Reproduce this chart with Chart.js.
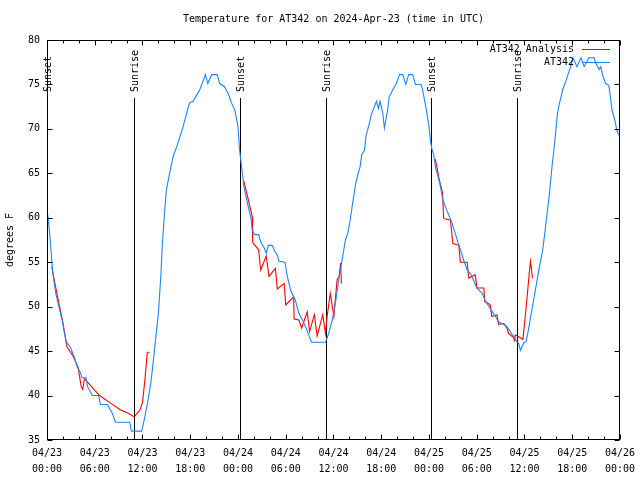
<!DOCTYPE html>
<html><head><meta charset="utf-8">
<script src="https://cdn.jsdelivr.net/npm/chart.js@4/dist/chart.umd.min.js"></script>
<style>html,body{margin:0;padding:0;background:#fff}</style>
</head><body>
<canvas id="c" width="640" height="480"></canvas>
<script>
// ---- data (hours since 2024-04-23 00:00 UTC) ----
const obsHours = [0,0.25,0.5,0.7,1.1,1.5,1.9,2.2,2.4,2.9,3.4,3.8,4.2,4.4,4.9,5.1,5.7,6.5,6.7,7.6,8.2,8.6,10.4,10.6,11.9,12.3,12.7,13.1,13.55,14.0,14.3,14.5,14.8,15.0,15.4,15.85,16.3,16.7,17.1,17.5,17.9,18.35,18.8,19.2,19.5,19.9,20.2,20.7,21.4,21.7,22.3,22.75,23.2,23.6,24.0,24.2,24.5,24.75,25.2,25.6,25.8,26.1,26.6,26.85,27.3,27.55,27.8,28.3,28.65,28.95,29.15,29.9,30.2,30.6,31.0,31.2,31.65,32.1,32.5,32.9,33.25,35.0,35.4,35.85,36.3,36.7,37.0,37.3,37.5,37.8,38.1,38.4,38.8,39.1,39.35,39.55,39.9,40.1,40.45,40.75,41.0,41.4,41.65,41.85,42.2,42.4,42.8,43.0,43.45,43.9,44.3,44.7,45.1,45.45,45.95,46.3,47.0,47.2,47.6,47.95,48.2,48.4,48.6,48.8,49.15,49.45,49.7,50.05,50.5,50.9,51.3,51.7,52.1,52.35,52.8,53.2,53.6,54.0,54.7,55.1,55.7,56.1,56.75,57.4,57.8,58.2,58.65,59.05,59.25,59.5,59.9,60.2,60.5,60.85,61.15,61.4,61.8,62.3,62.6,62.9,63.1,63.3,63.5,63.7,63.95,64.15,64.4,64.6,64.8,65.1,65.4,65.8,66.1,66.6,67.1,67.5,68.1,68.75,68.95,69.4,69.6,69.8,70.2,70.6,70.8,71.0,71.35,71.6,72.0];
const obsTemps = [61,59,56.4,54,51.5,50,48.5,47,46.1,45.5,44.4,43.2,42.6,42,42,41,40,40,39,39,38,37,37,36,36,37.6,39.5,41.75,45.5,49.3,53.4,57.1,60.9,63.1,65,66.9,68,69.1,70.25,71.6,72.9,73.1,73.8,74.4,75.1,76.1,75.1,76.1,76.1,75.1,74.75,74,72.9,72.1,70.25,67.6,65.4,63.5,61.6,60.1,58.6,58.1,58.1,57.3,56.6,56,56.9,56.9,56.2,55.8,55.1,55,53.4,51.9,51.1,50.75,49.25,48.5,47.75,46.8,46,46,47,48.5,50.75,53.2,54.8,56.4,57.5,58.25,59.75,61.6,63.9,65,65.75,67.1,67.6,69.3,70.4,71.6,72.2,73.1,72.3,73.1,71.75,70.1,72.1,73.6,74.4,75.1,76.1,76.1,75,76.1,76.1,75,75,74.4,72.5,70.6,68.6,67.6,67.1,65.75,64.6,63.5,62.2,61.25,60.3,59.4,58.25,57.1,56,55.25,54.1,53.75,53,52.1,51.5,50.6,49.8,49.25,48.3,48,47.75,47.2,46.6,46.05,45.9,45.1,45.95,46.05,47.4,49.25,50.75,52,54.1,56.4,58.6,60.9,62.4,64.25,66.1,67.6,69.9,71.75,72.9,73.6,74.4,75.1,75.9,77,78,77,78,77,78,78,77.4,76.7,77,76.1,75.1,74.9,73.6,72.1,71,69.9,69.0];

const anaHours = [0.6,0.8,1.4,2.0,2.5,3.3,3.9,4.3,4.5,4.7,5.4,6.6,7.9,9.2,10.2,10.95,11.7,12.0,12.3,12.6,12.85,
  18,
  24.75,25.2,25.6,25.8,25.85,26.6,26.85,27.55,27.9,28.7,28.95,29.8,30.0,31.0,31.05,31.65,32.0,32.7,33.0,33.6,33.95,34.65,35.0,35.2,35.6,36.05,36.45,36.7,36.9,37.0,
  42,
  48.8,49.3,49.55,49.7,49.85,50.7,51.0,51.75,51.95,52.8,53.0,53.8,54.05,54.9,55.0,55.7,55.9,56.55,56.75,57.4,57.8,58.0,58.6,58.75,58.85,59.5,59.8,60.1,60.3,60.6,60.75,60.85,61.0];
const anaTemps = [54.5,53.5,50.8,48.2,45.5,44.4,43.2,41,40.7,41.9,41.2,40,39.2,38.4,38,37.6,38.4,39.2,41.75,44.8,44.9,
  null,
  64.1,62.4,60.9,60.1,57.2,56.4,54.1,55.7,53.4,54.3,52,52.6,50.2,51.1,48.6,48.5,47.6,49.4,47.2,49.1,46.7,49.1,47,48.9,51.5,48.9,53,53.4,54.9,52.6,
  null,
  66.6,64.25,63.4,62.75,59.9,59.75,57.1,56.9,55,55,53.2,53.6,52.1,52.1,50.6,50.2,48.9,49.1,48,48.1,47.6,47,46.55,46.2,46.8,46.5,46.3,48.9,50.75,53.75,55.1,54.5,53.2];

const sunsetHours = [0, 24.2, 48.2];
const sunriseHours = [10.9, 35.0, 59.1];

const xTickDates = ['04/23','04/23','04/23','04/23','04/24','04/24','04/24','04/24','04/25','04/25','04/25','04/25','04/26'];
const xTickTimes = ['00:00','06:00','12:00','18:00','00:00','06:00','12:00','18:00','00:00','06:00','12:00','18:00','00:00'];
const seriesNames = ['AT342 Analysis', 'AT342'];
const titleText = 'Temperature for AT342 on 2024-Apr-23 (time in UTC)';

const RED = '#ff0000', BLUE = '#1a85ff';
const FAM = '"DejaVu Sans Mono", "Liberation Mono", monospace';
const F10 = '10px ' + FAM;

const obsData = obsHours.map((h, i) => ({x: h, y: obsTemps[i]}));
const anaData = anaHours.map((h, i) => ({x: h, y: anaTemps[i]}));

const sunPlugin = {
  id: 'sun',
  beforeDatasetsDraw(chart) {
    const ctx = chart.ctx, xs = chart.scales.x, a = chart.chartArea;
    ctx.save();
    ctx.strokeStyle = '#000'; ctx.lineWidth = 1;
    const draw = (h, label) => {
      const px = Math.round(xs.getPixelForValue(h)) + 0.5;
      ctx.beginPath(); ctx.moveTo(px, 98); ctx.lineTo(px, a.bottom); ctx.stroke();
      ctx.save();
      ctx.translate(px + 1, 92);
      ctx.rotate(-Math.PI / 2);
      ctx.fillStyle = '#000'; ctx.font = F10;
      ctx.textAlign = 'left'; ctx.textBaseline = 'middle';
      ctx.fillText(label, 0, 0);
      ctx.restore();
    };
    sunsetHours.forEach(h => draw(h, 'Sunset'));
    sunriseHours.forEach(h => draw(h, 'Sunrise'));
    ctx.restore();
  }
};

const framePlugin = {
  id: 'frame',
  afterDraw(chart) {
    const ctx = chart.ctx, a = chart.chartArea, xs = chart.scales.x, ys = chart.scales.y;
    ctx.save();
    ctx.strokeStyle = '#000'; ctx.lineWidth = 1;
    const L = Math.round(a.left) + 0.5, R = Math.round(a.right) - 0.5, T = Math.round(a.top) + 0.5, B = Math.round(a.bottom) - 0.5;
    ctx.strokeRect(L, T, R - L, B - T);
    ctx.beginPath();
    for (let h = 0; h <= 72; h += 2) {
      const px = Math.round(xs.getPixelForValue(h)) + 0.5;
      const len = (h % 6 === 0) ? 5 : 3;
      ctx.moveTo(px, B); ctx.lineTo(px, B - len);
      ctx.moveTo(px, T); ctx.lineTo(px, T + len);
    }
    for (let v = 35; v <= 80; v += 5) {
      const py = Math.round(ys.getPixelForValue(v)) + 0.5;
      ctx.moveTo(L, py); ctx.lineTo(L + 5, py);
      ctx.moveTo(R, py); ctx.lineTo(R - 5, py);
    }
    ctx.stroke();
    // title
    ctx.fillStyle = '#000'; ctx.font = F10;
    ctx.textAlign = 'center'; ctx.textBaseline = 'middle';
    ctx.fillText(titleText, (a.left + a.right) / 2, 19);
    // legend (key)
    ctx.textAlign = 'right';
    const rows = [[seriesNames[0], RED, 49], [seriesNames[1], BLUE, 62]];
    rows.forEach(([t, c, y]) => {
      ctx.fillStyle = '#000';
      ctx.fillText(t, 574, y);
      ctx.strokeStyle = c; ctx.lineWidth = 1;
      ctx.beginPath(); ctx.moveTo(582, y + 0.5); ctx.lineTo(610, y + 0.5); ctx.stroke();
    });
    ctx.restore();
  }
};

new Chart(document.getElementById('c').getContext('2d'), {
  type: 'line',
  data: {
    datasets: [
      {label: seriesNames[0], data: anaData, borderColor: RED, borderWidth: 1.1, pointRadius: 0, tension: 0, spanGaps: false, order: 1},
      {label: seriesNames[1], data: obsData, borderColor: BLUE, borderWidth: 1.1, pointRadius: 0, tension: 0, order: 0}
    ]
  },
  options: {
    responsive: false,
    animation: false,
    events: [],
    layout: {padding: {top: 40, right: 19, left: 0, bottom: 0}},
    plugins: {legend: {display: false}, title: {display: false}, tooltip: {enabled: false}},
    scales: {
      x: {
        type: 'linear', min: 0, max: 72,
        grid: {display: false, drawTicks: false}, border: {display: false},
        ticks: {
          stepSize: 6, autoSkip: false, maxRotation: 0, minRotation: 0,
          color: '#000', padding: 5,
          font: {family: FAM, size: 10, lineHeight: 1.6},
          callback: (v) => { const i = Math.round(v / 6); return [xTickDates[i], xTickTimes[i]]; }
        },
        afterFit: (s) => { s.height = 40; }
      },
      y: {
        min: 35, max: 80,
        grid: {display: false, drawTicks: false}, border: {display: false},
        ticks: {stepSize: 5, color: '#000', padding: 7, font: {family: FAM, size: 10}},
        title: {display: true, text: 'degrees F', color: '#000', font: {family: FAM, size: 10}, padding: {top: 4, bottom: 4}},
        afterFit: (s) => { s.width = 47; }
      }
    }
  },
  plugins: [sunPlugin, framePlugin]
});
</script>
</body></html>
